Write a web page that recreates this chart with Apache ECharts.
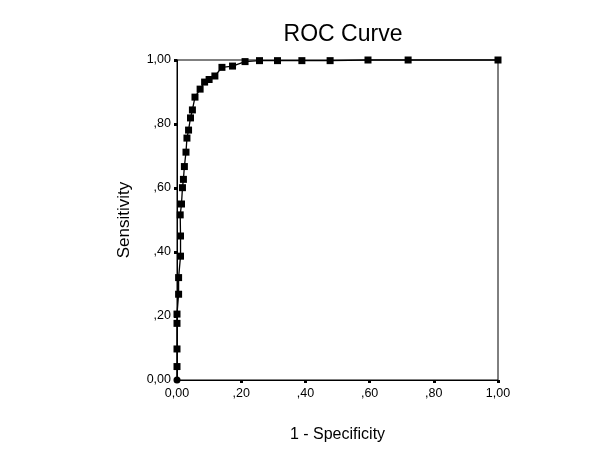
<!DOCTYPE html>
<html>
<head>
<meta charset="utf-8">
<script src="https://cdn.jsdelivr.net/npm/echarts@6/dist/echarts.min.js"></script>
<style>html,body{margin:0;padding:0;background:#fff}#c{width:600px;height:450px}</style>
</head>
<body>
<div id="c"></div>
<script>
var fpr = [0, 0, 0, 0, 0, 0.005, 0.005, 0.011, 0.011, 0.010, 0.014, 0.017, 0.020, 0.023, 0.028, 0.031, 0.036, 0.042, 0.048, 0.056, 0.072, 0.086, 0.100, 0.118, 0.140, 0.173, 0.212, 0.257, 0.313, 0.389, 0.477, 0.595, 0.720, 1.000];
var tpr = [0, 0.042, 0.097, 0.177, 0.206, 0.268, 0.320, 0.387, 0.450, 0.516, 0.550, 0.601, 0.627, 0.667, 0.712, 0.756, 0.781, 0.819, 0.844, 0.884, 0.909, 0.931, 0.939, 0.950, 0.977, 0.981, 0.995, 0.998, 0.998, 0.998, 0.998, 1.000, 1.000, 1.000];
var tickLabels = {0: '0,00', 0.2: ',20', 0.4: ',40', 0.6: ',60', 0.8: ',80', 1: '1,00'};

function fmt(v) {
  var k = Math.round(v * 10) / 10;
  return tickLabels[k] !== undefined ? tickLabels[k] : '';
}

var pts = fpr.map(function (x, i) {
  var p = {value: [x, tpr[i]]};
  if (i === 0) p.symbol = 'circle';
  return p;
});

var FONT = 'Liberation Sans, Arial, sans-serif';
var chart = echarts.init(document.getElementById('c'), null, {renderer: 'canvas'});
chart.setOption({
  backgroundColor: '#fff',
  animation: false,
  textStyle: {fontFamily: FONT},
  title: {
    text: 'ROC Curve',
    left: 338, top: 18, textAlign: 'center',
    textStyle: {fontSize: 23, fontWeight: 'normal', color: '#000', fontFamily: FONT}
  },
  grid: {left: 177, right: 102, top: 60, bottom: 70, show: true, borderColor: '#000', borderWidth: 1, backgroundColor: 'transparent'},
  xAxis: {
    type: 'value', min: 0, max: 1, interval: 0.2,
    name: '1 - Specificity', nameLocation: 'middle', nameGap: 47,
    nameTextStyle: {fontSize: 16, color: '#000', fontFamily: FONT},
    axisLine: {show: true, onZero: false, lineStyle: {color: '#000', width: 1}},
    axisTick: {show: true, length: 3, lineStyle: {color: '#000', width: 3}},
    axisLabel: {formatter: fmt, color: '#000', fontSize: 12.5, margin: 7, fontFamily: FONT},
    splitLine: {show: false}
  },
  yAxis: {
    type: 'value', min: 0, max: 1, interval: 0.2,
    name: 'Sensitivity', nameLocation: 'middle', nameGap: 44, nameRotate: 90,
    nameTextStyle: {fontSize: 17, color: '#000', fontFamily: FONT},
    axisLine: {show: true, onZero: false, lineStyle: {color: '#000', width: 1}},
    axisTick: {show: true, length: 3, lineStyle: {color: '#000', width: 3}},
    axisLabel: {formatter: fmt, color: '#000', fontSize: 12.5, margin: 6, fontFamily: FONT},
    splitLine: {show: false}
  },
  series: [{
    type: 'line',
    data: pts,
    symbol: 'rect',
    symbolSize: 7,
    showAllSymbol: true,
    clip: false,
    lineStyle: {color: '#000', width: 1.3},
    itemStyle: {color: '#000', borderWidth: 0}
  }]
});
</script>
</body>
</html>
